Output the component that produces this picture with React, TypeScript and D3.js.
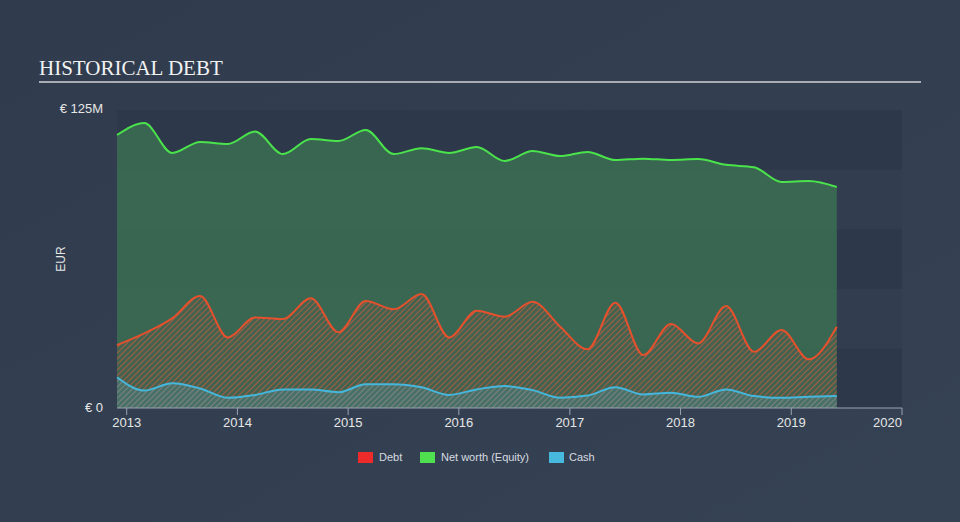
import * as d3 from 'd3';

// quarterly reporting dates, Nov 2012 .. May 2019
const dates = [
  '2012-11-30', '2013-02-28', '2013-05-31', '2013-08-31',
  '2013-11-30', '2014-02-28', '2014-05-31', '2014-08-31',
  '2014-11-30', '2015-02-28', '2015-05-31', '2015-08-31',
  '2015-11-30', '2016-02-29', '2016-05-31', '2016-08-31',
  '2016-11-30', '2017-02-28', '2017-05-31', '2017-08-31',
  '2017-11-30', '2018-02-28', '2018-05-31', '2018-08-31',
  '2018-11-30', '2019-02-28', '2019-05-31',
];

// values in millions of EUR
const debt = [
  26.4, 31.3, 37.6, 47, 29.6, 38, 37.3, 46, 31.8, 44.9, 41.4, 47.8, 29.6, 40.8,
  38.3, 44.6, 34.1, 24.6, 44.2, 22.2, 35.2, 27.1, 42.8, 23.6, 32.7, 20.4, 34.1,
];
const equity = [
  114.5, 119.5, 107, 111.6, 110.7, 116, 106.5, 112.8, 112, 116.6, 106.5, 109,
  107, 109.5, 103.6, 107.8, 105.7, 107.4, 104, 104.6, 104, 104.4, 102, 101,
  94.8, 95.2, 92.7,
];
const cash = [
  12.9, 7.3, 10.4, 8.2, 4.3, 5.5, 7.8, 7.8, 6.6, 10, 10, 8.7, 5.5, 7.8, 9.2,
  7.5, 4.3, 5.2, 8.7, 5.7, 6.4, 4.7, 7.8, 5, 4.3, 4.7, 5,
];

const yearTicks = [2013, 2014, 2015, 2016, 2017, 2018, 2019, 2020];

const W = 960;
const H = 522;
const left = 117;
const right = 902;
const top = 110;
const bottom = 408;

export default function App() {
  const parse = d3.timeParse('%Y-%m-%d');
  const xs = dates.map(d => parse(d) as Date);

  const x = d3.scaleTime()
    .domain([xs[0], new Date(2020, 0, 1)])
    .range([left, right]);
  const y = d3.scaleLinear().domain([0, 125]).range([bottom, top]);

  const curve = d3.curveMonotoneX;
  const mkArea = (vals: number[]) =>
    d3.area<number>()
      .x((_, i) => x(xs[i]))
      .y0(y(0))
      .y1(v => y(v))
      .curve(curve)(vals) || '';
  const mkLine = (vals: number[]) =>
    d3.line<number>()
      .x((_, i) => x(xs[i]))
      .y(v => y(v))
      .curve(curve)(vals) || '';

  const bands = d3.range(0, 125, 25);

  return (
    <svg width={W} height={H} style={{ display: 'block', position: 'absolute', left: 0, top: 0 }}>
      <defs>
        <linearGradient id="bg" x1="0" y1="0" x2="1" y2="1">
          <stop offset="0" stopColor="#303c4d" />
          <stop offset="1" stopColor="#354253" />
        </linearGradient>
        <pattern id="hatchDebt" width="4" height="4" patternUnits="userSpaceOnUse" patternTransform="rotate(45)">
          <rect width="4" height="4" fill="#5a5a48" fillOpacity="0.3" />
          <line x1="0" y1="0" x2="0" y2="4" stroke="#dc5a3c" strokeWidth="1.6" strokeOpacity="0.8" />
        </pattern>
        <pattern id="hatchCash" width="4" height="4" patternUnits="userSpaceOnUse" patternTransform="rotate(45)">
          <rect width="4" height="4" fill="#4f7a78" fillOpacity="0.6" />
          <line x1="0" y1="0" x2="0" y2="4" stroke="#7fa3a0" strokeWidth="1.2" strokeOpacity="0.7" />
        </pattern>
      </defs>
      <rect width={W} height={H} fill="url(#bg)" />

      <text x={39} y={75} fill="#f2f2f2" fontFamily="'Liberation Serif', 'DejaVu Serif', serif" fontSize={21}>
        HISTORICAL DEBT
      </text>
      <line x1={39} x2={921} y1={82} y2={82} stroke="#a9adb3" strokeWidth={2} />

      {bands.map((b, i) => (
        <rect
          key={b}
          x={left}
          width={right - left}
          y={y(b + 25)}
          height={y(b) - y(b + 25)}
          fill={i % 2 === 0 ? '#2d394a' : '#323e50'}
        />
      ))}

      <path d={mkArea(equity)} fill="#3a6b52" fillOpacity={0.9} />
      <path d={mkArea(debt)} fill="url(#hatchDebt)" />
      <path d={mkArea(cash)} fill="url(#hatchCash)" />

      <path d={mkLine(equity)} fill="none" stroke="#4be34b" strokeWidth={2} />
      <path d={mkLine(debt)} fill="none" stroke="#e5502d" strokeWidth={2} />
      <path d={mkLine(cash)} fill="none" stroke="#45b6dc" strokeWidth={2} />

      <g fontFamily="'Liberation Sans', Arial, sans-serif" fill="#e6e6e6">
        <text x={103} y={113} fontSize={13} textAnchor="end">€ 125M</text>
        <text x={103} y={412} fontSize={13} textAnchor="end">€ 0</text>
        <text
          x={0}
          y={0}
          fontSize={12}
          textAnchor="middle"
          transform={`translate(65,259) rotate(-90)`}
        >
          EUR
        </text>
      </g>

      <line x1={left} x2={right} y1={bottom} y2={bottom} stroke="#9aa4b1" strokeWidth={1} />
      {yearTicks.map(t => {
        const tx = x(new Date(t, 0, 1));
        return (
          <g key={t}>
            <line x1={tx} x2={tx} y1={bottom} y2={bottom + 7} stroke="#9aa4b1" />
            <text
              x={tx}
              y={427}
              fill="#e6e6e6"
              fontSize={13}
              textAnchor={t === 2020 ? 'end' : 'middle'}
              fontFamily="'Liberation Sans', Arial, sans-serif"
            >
              {t}
            </text>
          </g>
        );
      })}

      <g fontFamily="'Liberation Sans', Arial, sans-serif" fontSize={11} fill="#d8dbe0">
        <rect x={358} y={452} width={15} height={11} fill="#ee2b2b" />
        <text x={379} y={461}>Debt</text>
        <rect x={420} y={452} width={15} height={11} fill="#4ee04e" />
        <text x={441} y={461}>Net worth (Equity)</text>
        <rect x={549} y={452} width={15} height={11} fill="#47b9de" />
        <text x={569} y={461}>Cash</text>
      </g>
    </svg>
  );
}
